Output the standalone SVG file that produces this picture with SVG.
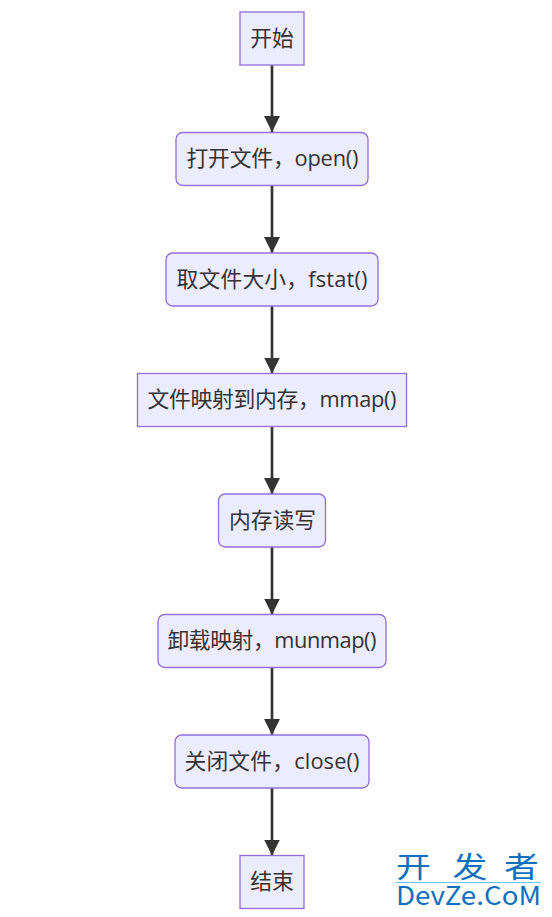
<svg xmlns="http://www.w3.org/2000/svg" width="552" height="917" viewBox="0 0 552 917">
<style>
.n{fill:#ececff;stroke:#9370db;stroke-width:1.33}
.t{font-family:"Open Sans","Liberation Sans","Noto Sans CJK SC",sans-serif;font-size:21.8px;fill:#333;text-anchor:middle}
.e{fill:none;stroke:#333;stroke-width:2.67}
.w{font-family:"Noto Sans CJK SC","Liberation Sans",sans-serif;fill:#1070bd}
</style>
<defs>
<marker id="a" markerUnits="userSpaceOnUse" markerWidth="16" markerHeight="18" refX="16" refY="8" orient="auto"><path d="M0 0L16 8L0 16Z" fill="#333"/></marker>
</defs>
<rect width="552" height="917" fill="#fff"/>
<g id="connectors">
<path class="e" d="M272 65V132" marker-end="url(#a)"/>
<path class="e" d="M272 185V253" marker-end="url(#a)"/>
<path class="e" d="M272 306V373.500" marker-end="url(#a)"/>
<path class="e" d="M272 426V494" marker-end="url(#a)"/>
<path class="e" d="M272 547V614.500" marker-end="url(#a)"/>
<path class="e" d="M272 667V735" marker-end="url(#a)"/>
<path class="e" d="M272 788V855.500" marker-end="url(#a)"/>
</g>
<g id="n1"><rect class="n" x="240" y="12" width="64" height="53"/><text class="t" x="272" y="46">开始</text></g>
<g id="n2"><rect class="n" x="176" y="132.500" width="192" height="53" rx="6.700"/><text class="t" x="272.500" y="166" textLength="172">打开文件，open()</text></g>
<g id="n3"><rect class="n" x="166" y="253" width="212" height="53" rx="6.700"/><text class="t" x="272" y="287" textLength="191">取文件大小，fstat()</text></g>
<g id="n4"><rect class="n" x="137.500" y="373.500" width="269" height="53"/><text class="t" x="272" y="407" textLength="249">文件映射到内存，mmap()</text></g>
<g id="n5"><rect class="n" x="218.500" y="494" width="107" height="53" rx="6.700"/><text class="t" x="272.500" y="528">内存读写</text></g>
<g id="n6"><rect class="n" x="158" y="614.500" width="228" height="53" rx="6.700"/><text class="t" x="272" y="648" textLength="209">卸载映射，munmap()</text></g>
<g id="n7"><rect class="n" x="175" y="735" width="194" height="53" rx="6.700"/><text class="t" x="272" y="769" textLength="175">关闭文件，close()</text></g>
<g id="n8"><rect class="n" x="240" y="855.500" width="64" height="53"/><text class="t" x="272" y="889">结束</text></g>
<g id="watermark">
<text class="w" transform="translate(396 878) scale(1.2 1)" font-size="29" x="0 47 90" y="0">开发者</text>
<rect x="396" y="882" width="145" height="1" fill="#6cc5f0"/>
<text class="w" x="396" y="905" font-size="26" textLength="145" lengthAdjust="spacingAndGlyphs">DevZe.CoM</text>
</g>
</svg>
